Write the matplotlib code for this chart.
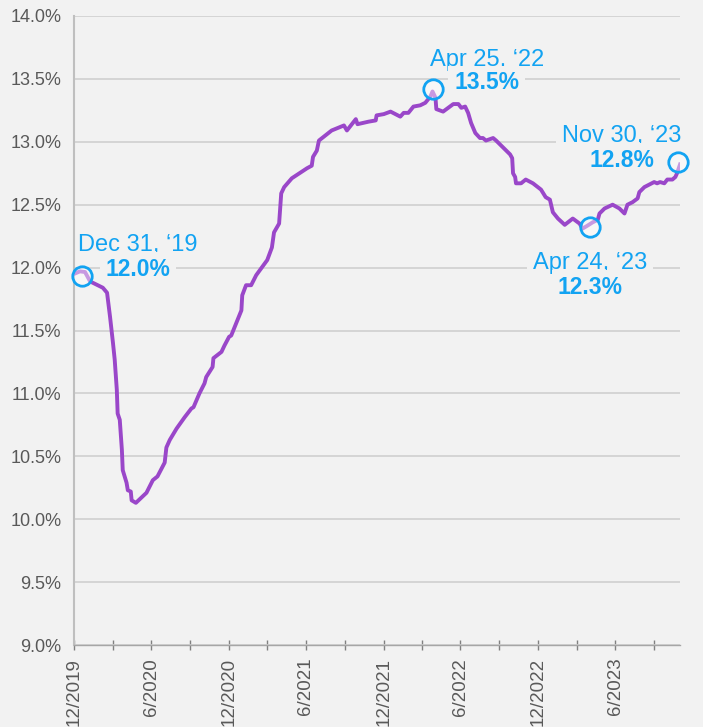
import matplotlib
matplotlib.use("Agg")
import matplotlib.pyplot as plt
import matplotlib.transforms as mtransforms
import numpy as np
import pandas as pd

# ---------------- data ----------------
start_date = "2019-12-31"
day_offsets = [0, 14, 26, 38, 56, 68, 78, 85, 92, 96, 101, 103, 108, 113, 115, 124, 127, 134, 136, 146,
               171, 186, 197, 214, 218, 226, 242, 261, 277, 282, 296, 308, 312, 327, 329, 348, 355, 366, 371, 383,
               395, 397, 406, 418, 430, 456, 467, 472, 484, 489, 496, 514, 550, 561, 564, 573, 578, 608, 637, 644,
               665, 669, 695, 712, 714, 731, 747, 770, 778, 789, 801, 817, 829, 841, 846, 853, 855, 871, 895, 907,
               914, 923, 930, 937, 947, 958, 965, 972, 989, 996, 1008, 1029, 1034, 1036, 1041, 1043, 1055, 1066, 1083, 1102,
               1113, 1123, 1130, 1142, 1158, 1177, 1193, 1200, 1210, 1224, 1236, 1240, 1252, 1271, 1287, 1299, 1306, 1318, 1330, 1334,
               1346, 1369, 1376, 1383, 1393, 1400, 1412, 1419, 1423, 1430]
values = [11.95, 11.97, 11.965, 11.89, 11.86, 11.84, 11.80, 11.61, 11.40, 11.27, 11.03, 10.84, 10.79, 10.55, 10.39, 10.29, 10.23, 10.22, 10.15, 10.13,
          10.21, 10.31, 10.34, 10.45, 10.57, 10.63, 10.72, 10.81, 10.88, 10.89, 11.00, 11.08, 11.13, 11.21, 11.28, 11.33, 11.38, 11.45, 11.46, 11.56,
          11.66, 11.78, 11.86, 11.86, 11.94, 12.06, 12.16, 12.28, 12.35, 12.59, 12.64, 12.71, 12.79, 12.81, 12.88, 12.93, 13.01, 13.09, 13.13, 13.09,
          13.18, 13.14, 13.16, 13.17, 13.21, 13.22, 13.24, 13.20, 13.23, 13.23, 13.28, 13.29, 13.31, 13.36, 13.40, 13.35, 13.26, 13.24, 13.30, 13.30,
          13.27, 13.28, 13.23, 13.15, 13.07, 13.03, 13.03, 13.01, 13.03, 13.01, 12.97, 12.90, 12.87, 12.75, 12.72, 12.67, 12.67, 12.70, 12.67, 12.62,
          12.56, 12.54, 12.44, 12.39, 12.34, 12.39, 12.35, 12.31, 12.33, 12.36, 12.38, 12.43, 12.47, 12.50, 12.47, 12.43, 12.50, 12.52, 12.55, 12.60,
          12.64, 12.68, 12.67, 12.68, 12.67, 12.70, 12.70, 12.72, 12.75, 12.82]

annot_dates = ["2019-12-31", "2022-04-25", "2023-04-24", "2023-11-30"]
annot_date_labels = ["Dec 31, \u201819", "Apr 25, \u201822", "Apr 24, \u201823", "Nov 30, \u201823"]
annot_value_labels = ["12.0%", "13.5%", "12.3%", "12.8%"]

y_ticks = [9.0, 9.5, 10.0, 10.5, 11.0, 11.5, 12.0, 12.5, 13.0, 13.5, 14.0]

# ---------------- style ----------------
plt.rcParams["font.family"] = ["Liberation Sans", "DejaVu Sans"]
BG = "#F2F2F2"
PURPLE = "#9A47C9"
BLUE = "#12A3F2"
TXT = "#595959"

dates = pd.Timestamp(start_date) + pd.to_timedelta(day_offsets, unit="D")
series = pd.Series(values, index=dates)

fig = plt.figure(figsize=(7.03, 7.27), dpi=100, facecolor=BG)
ax = fig.add_axes([74 / 703, 1 - 645 / 727, (680 - 74) / 703, (645 - 16) / 727])
ax.set_facecolor(BG)

ax.plot(series.index, series.values, color=PURPLE, lw=2.8, zorder=3, solid_joinstyle="round")

# axes
ax.set_ylim(9.0, 14.0)
ax.set_yticks(y_ticks)
ax.set_yticklabels([f"{v:.1f}%" for v in y_ticks])
ax.set_xlim(pd.Timestamp(start_date), pd.Timestamp("2023-11-30"))

tick_dates = [pd.Timestamp(start_date) + pd.offsets.MonthEnd(3 * i) for i in range(16)]
ax.set_xticks(tick_dates)
ax.set_xticklabels([f"{d.month}/{d.year}" if i % 2 == 0 else "" for i, d in enumerate(tick_dates)],
                   rotation=90, va="top", ha="center")

ax.grid(axis="y", color="#D0D0D0", lw=1.2, zorder=0.5)
ax.set_axisbelow(True)
for s in ["top", "right"]:
    ax.spines[s].set_visible(False)
ax.spines["left"].set_color("#BFBFBF")
ax.spines["left"].set_linewidth(1.5)
ax.spines["bottom"].set_color("#A6A6A6")
ax.spines["bottom"].set_linewidth(1.0)

ax.tick_params(axis="y", length=0, pad=9, labelsize=13, labelcolor=TXT)
ax.tick_params(axis="x", direction="inout", length=6.5, width=1, color="#808080",
               pad=6, labelsize=13.5, labelcolor=TXT)

# annotations
circle_offsets = [(5.8, -1.4), (0.7, 2.0), (2.2, -0.7), (-1.4, 1.4)]
date_offsets = [(46, 16.5), (39, 18), (2.5, -31), (-42, 16.5)]
value_offsets = [(46, -1.5), (39, 1.5), (2.5, -49), (-42, -2)]

for d, dl, vl, co, do, vo in zip(annot_dates, annot_date_labels, annot_value_labels,
                                  circle_offsets, date_offsets, value_offsets):
    t = pd.Timestamp(d)
    v = series.loc[t]
    tr = ax.transData + mtransforms.ScaledTranslation(co[0] / 72, co[1] / 72, fig.dpi_scale_trans)
    ax.plot([t], [v], marker="o", ms=14, mew=2.0, mec=BLUE, mfc=(1, 1, 1, 0.45),
            transform=tr, zorder=4, clip_on=False)
    bb = dict(boxstyle="square,pad=0.25", fc=BG, ec="none")
    ax.annotate(dl, xy=(t, v), xytext=do, textcoords="offset points", ha="center", va="baseline",
                fontsize=17, color=BLUE, zorder=2, bbox=bb, annotation_clip=False)
    ax.annotate(vl, xy=(t, v), xytext=vo, textcoords="offset points", ha="center", va="baseline",
                fontsize=16.5, fontweight="bold", color=BLUE, zorder=2, bbox=bb, annotation_clip=False)

fig.savefig("out.png", dpi=100, facecolor=BG)
